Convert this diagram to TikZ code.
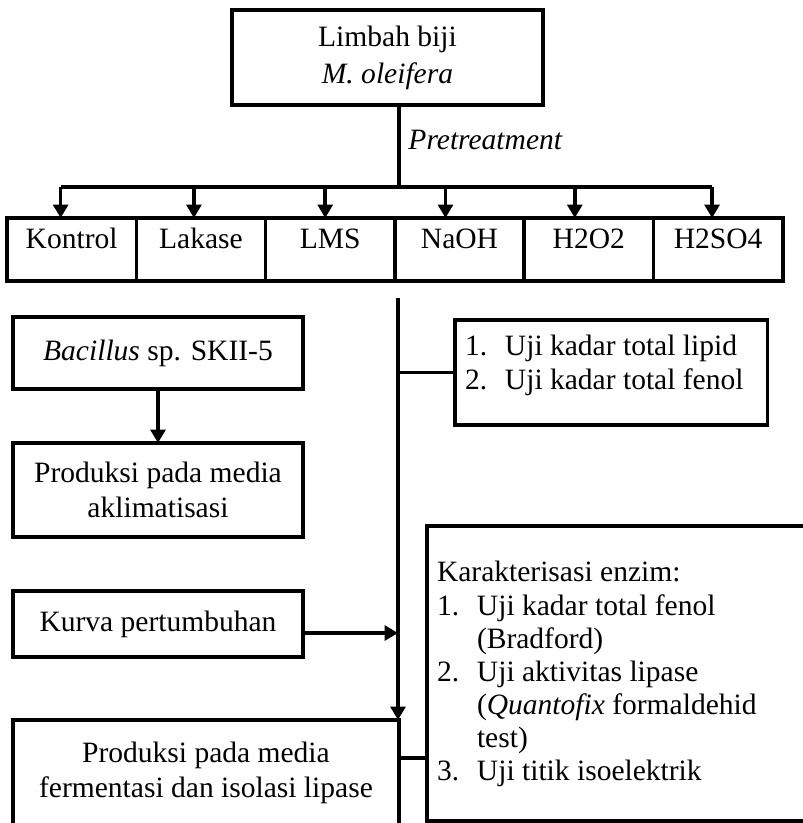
\documentclass[tikz,border=0pt]{standalone}
\usepackage{fontspec}
\setmainfont{Liberation Serif}
\usetikzlibrary{arrows.meta}
\usetikzlibrary{positioning}
\tikzset{box/.style = {draw, line width=1.5pt, outer sep=0pt, inner sep=0pt, align=center}}
\tikzset{rowbox/.style = {box, minimum width=54.3pt, text height=12.6pt, text depth=13.9pt}}
\tikzset{link/.style = {line width=1.5pt}}
\tikzset{arr/.style = {line width=1.5pt, -{Triangle[length=5.6pt,width=6.2pt]}}}

\begin{document}
\begin{tikzpicture}[x=0.42pt, y=-0.42pt, font=\fontsize{12.4}{14.5}\selectfont]
	\useasboundingbox (0,0) rectangle (803,823);
	\clip (0,0) rectangle (803,823);
	\node[box, minimum width=130.6pt, minimum height=39.9pt, anchor=north west] (limbah) at (232,10) {Limbah biji\\[1pt]\textit{M. oleifera}};
	\node[inner sep=0pt, anchor=west] (pretreat) at (408,140) {\textit{Pretreatment}};
	\coordinate (split) at (399,187);
	\draw[link] (limbah.south -| split) -- (split);
	% the six pretreatments
	\node[rowbox, anchor=north west] (kontrol) at (7,218) {Kontrol};
	\node[rowbox, right=0pt of kontrol] (lakase) {Lakase};
	\node[rowbox, right=0pt of lakase] (lms) {LMS};
	\node[rowbox, right=0pt of lms] (naoh) {NaOH};
	\node[rowbox, right=0pt of naoh] (hdua) {H2O2};
	\node[rowbox, right=0pt of hdua] (hsulfat) {H2SO4};
	\draw[link] ([xshift=-11*0.42pt]kontrol.north |- split) -- ([xshift=-6*0.42pt]hsulfat.north |- split);
	\foreach \n/\dx in {kontrol/-11, lakase/-7, lms/-5, naoh/-14, hdua/-14, hsulfat/-6}
		\draw[arr] ([xshift=\dx*0.42pt]\n.north |- split) -- ([xshift=\dx*0.42pt]\n.north);
	% bacterial side
	\node[box, minimum width=121.8pt, minimum height=30.2pt, anchor=north west] (bacillus) at (13,317) {\textit{Bacillus} sp. SKII-5};
	\node[box, minimum width=121.8pt, minimum height=39.5pt, anchor=north west] (aklimatisasi) at (13,443) {Produksi pada media\\aklimatisasi};
	\node[box, minimum width=121.8pt, minimum height=27.7pt, anchor=north west] (kurva) at (13,591) {Kurva pertumbuhan};
	\node[box, minimum width=162.1pt, minimum height=44.5pt, anchor=north west] (fermentasi) at (13,720) {Produksi pada media\\fermentasi dan isolasi lipase};
	\draw[arr] (bacillus) -- (aklimatisasi);
	% analyses
	\node[box, anchor=north west, inner xsep=4.2pt, text height=14.7pt, text depth=29.4pt] (lipid) at (455,320)
		{\begin{tabular}[t]{@{}p{16.8pt}@{}p{106pt}@{}}1. & Uji kadar total lipid\\2. & Uji kadar total fenol\end{tabular}};
	\node[box, anchor=north west, inner xsep=4.2pt, text height=23.5pt, text depth=100.4pt] (karakter) at (427,526)
		{\def\arraystretch{0.96}\begin{tabular}[t]{@{}p{16.8pt}@{}p{148pt}@{}}
		\multicolumn{2}{@{}l@{}}{Karakterisasi enzim:}\\
		1. & Uji kadar total fenol\\
		   & (Bradford)\\
		2. & Uji aktivitas lipase\\
		   & (\textit{Quantofix} formaldehid\\
		   & test)\\
		3. & Uji titik isoelektrik
		\end{tabular}};
	\coordinate (trunk) at (398,298);
	\draw[arr] (trunk) -- (fermentasi.north -| trunk);
	\draw[link] (lipid.west -| trunk) -- (lipid.west);
	\draw[arr] ([yshift=-3.8pt]kurva.east) -- ([yshift=-3.8pt]kurva.east -| trunk);
	\draw[link] ([yshift=6.3pt]fermentasi.east) -- ([yshift=6.3pt]fermentasi.east -| karakter.west);
\end{tikzpicture}
\end{document}
